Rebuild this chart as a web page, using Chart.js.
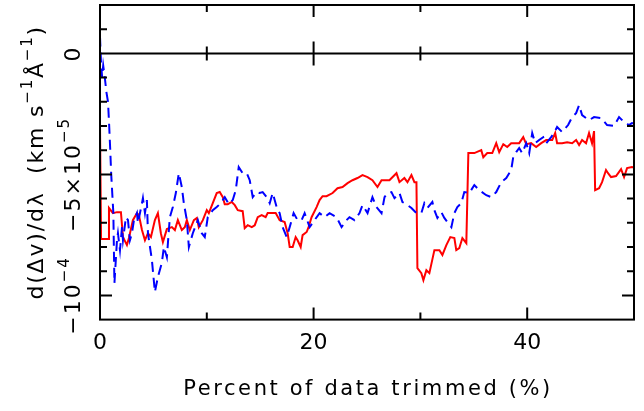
<!DOCTYPE html>
<html>
<head>
<meta charset="utf-8">
<script src="https://cdn.jsdelivr.net/npm/chart.js@4/dist/chart.umd.min.js"></script>
<style>
  html, body { margin: 0; padding: 0; background: #fff; }
  #trimChart { display: block; }
</style>
</head>
<body>
<canvas id="trimChart" width="644" height="411"></canvas>
<script>
// slope values are in units of 1e-5 km s^-1 A^-1
const redPercent = [
  0, 0.1, 0.75, 0.84, 1.21, 1.59, 1.96, 2.15, 2.52, 2.71,
  3.08, 3.46, 3.64, 3.93, 4.21, 4.49, 4.77, 5.14, 5.42, 5.70,
  5.89, 6.26, 6.73, 7.01, 7.29, 7.66, 7.94, 8.13, 8.41, 8.79,
  9.07, 9.25, 9.63, 10.0, 10.19, 10.56, 10.93, 11.21, 11.50, 11.68,
  11.96, 12.34, 12.62, 12.90, 13.36, 13.55, 13.83, 14.21, 14.49, 14.77,
  15.14, 15.51, 15.70, 16.17, 16.45, 16.82, 17.29, 17.57, 17.76, 18.04,
  18.32, 18.50, 18.79, 18.97, 19.35, 19.53, 19.81, 20.28, 20.56, 20.84,
  21.21, 21.78, 22.24, 22.71, 23.18, 23.64, 24.11, 24.58, 25.05, 25.51,
  25.98, 26.36, 27.10, 27.76, 28.04, 28.50, 28.79, 29.16, 29.44, 29.63,
  29.72, 30.09, 30.28, 30.56, 30.84, 31.31, 31.78, 32.06, 32.43, 32.80,
  33.18, 33.36, 33.64, 33.93, 34.30, 34.49, 35.05, 35.70, 35.89, 36.26,
  36.73, 37.10, 37.38, 37.76, 38.13, 38.50, 39.25, 39.63, 39.91, 40.37,
  40.84, 41.31, 41.78, 42.34, 42.62, 42.80, 43.27, 43.74, 44.21, 44.58,
  44.86, 45.14, 45.51, 45.79, 46.07, 46.26, 46.36, 46.73, 47.01, 47.38,
  47.57, 47.85, 48.32, 48.79, 49.07, 49.35, 49.81, 50.0
];
const redSlope = [
  -2.92, -7.67, -7.67, -6.39, -6.60, -6.56, -6.56, -7.59, -7.92, -7.63,
  -6.89, -6.60, -6.68, -7.30, -7.72, -7.43, -7.59, -6.89, -6.60, -7.43,
  -7.80, -7.26, -7.18, -7.30, -6.89, -7.30, -7.18, -6.89, -7.30, -6.89,
  -6.80, -7.18, -6.89, -6.48, -6.60, -6.19, -5.77, -5.73, -5.94, -6.23,
  -6.23, -6.14, -6.27, -6.48, -6.52, -7.22, -7.10, -7.18, -7.10, -6.77,
  -6.68, -6.77, -6.60, -6.60, -6.60, -6.89, -6.97, -7.43, -8.00, -8.00,
  -7.59, -7.72, -8.00, -7.51, -7.38, -7.18, -6.77, -6.35, -6.06, -5.90,
  -5.90, -5.77, -5.57, -5.52, -5.36, -5.24, -5.15, -5.03, -5.11, -5.24,
  -5.52, -5.24, -5.24, -4.95, -5.32, -5.15, -5.32, -5.03, -5.32, -5.32,
  -8.87, -9.08, -9.37, -8.96, -9.08, -8.13, -8.13, -8.33, -7.92, -7.59,
  -7.63, -8.13, -8.05, -7.63, -7.84, -4.12, -4.12, -4.00, -4.29, -4.12,
  -4.12, -3.71, -4.08, -3.75, -3.87, -3.71, -3.71, -3.46, -3.75, -3.71,
  -3.87, -3.71, -3.58, -3.58, -3.29, -3.71, -3.71, -3.67, -3.71, -3.58,
  -3.79, -3.58, -3.71, -3.29, -3.71, -3.21, -5.65, -5.57, -5.32, -4.82,
  -4.95, -5.11, -5.07, -4.78, -5.11, -4.74, -4.70, -4.72
];

const bluePercent = [
  0, 0.1, 0.2, 0.3, 0.45, 0.6, 0.75, 0.85, 0.95, 1.05,
  1.25, 1.35, 1.59, 1.68, 1.87, 2.06, 2.15, 2.43, 2.62, 2.80,
  2.99, 3.18, 3.46, 3.55, 3.93, 4.02, 4.21, 4.39, 4.49, 4.86,
  5.14, 5.42, 5.79, 5.98, 6.26, 6.54, 6.82, 7.10, 7.38, 7.66,
  7.85, 8.13, 8.32, 8.69, 9.16, 9.53, 9.81, 10.09, 10.56, 10.93,
  11.31, 11.68, 12.06, 12.43, 12.71, 12.99, 13.36, 13.74, 14.02, 14.30,
  14.67, 14.95, 15.23, 15.61, 15.89, 16.17, 16.54, 16.82, 17.10, 17.48,
  17.76, 18.13, 18.50, 18.88, 19.16, 19.63, 20.09, 20.56, 21.03, 21.50,
  22.15, 22.62, 23.08, 23.36, 23.83, 24.30, 24.58, 25.05, 25.51, 25.89,
  26.36, 26.64, 26.92, 27.29, 27.57, 28.04, 28.32, 28.79, 29.16, 29.63,
  30.09, 30.37, 30.65, 31.12, 31.31, 31.59, 31.96, 32.24, 32.52, 32.90,
  33.18, 33.46, 33.83, 34.11, 34.58, 35.05, 35.51, 36.17, 36.64, 37.10,
  37.57, 38.04, 38.50, 38.69, 38.97, 39.25, 39.53, 39.91, 40.19, 40.47,
  40.75, 41.12, 41.50, 41.78, 42.24, 42.52, 42.80, 43.27, 43.83, 44.21,
  44.58, 44.86, 45.14, 45.79, 46.26, 46.92, 47.48, 48.13, 48.60, 49.07,
  49.53, 49.81, 50.0
];
const blueSlope = [
  0.7, -0.4, -1.0, -0.5, -1.0, -1.6, -2.0, -2.9, -3.9, -5.0,
  -6.6, -9.5, -7.72, -7.43, -8.13, -7.18, -7.72, -6.77, -6.89, -7.72,
  -7.43, -6.89, -6.60, -7.01, -6.19, -5.98, -6.60, -6.06, -7.43, -8.54,
  -9.86, -9.24, -8.66, -8.00, -8.42, -6.77, -6.35, -5.77, -4.95, -5.52,
  -6.19, -6.89, -8.00, -7.43, -6.89, -7.43, -7.59, -6.77, -6.48, -6.35,
  -6.19, -5.94, -6.23, -6.06, -5.65, -4.70, -4.95, -4.95, -5.24, -5.94,
  -5.73, -5.77, -5.73, -5.94, -6.19, -5.77, -6.35, -6.60, -7.18, -7.59,
  -7.18, -6.60, -6.89, -6.89, -6.60, -7.18, -6.89, -6.60, -6.77, -6.60,
  -6.77, -7.18, -6.89, -6.77, -6.89, -6.60, -6.27, -6.60, -5.94, -6.35,
  -6.60, -5.94, -5.77, -5.73, -5.98, -5.77, -6.14, -6.27, -6.39, -6.60,
  -6.60, -6.19, -6.39, -6.14, -6.48, -6.80, -6.56, -6.80, -6.97, -7.18,
  -6.60, -6.35, -6.19, -5.73, -5.77, -5.44, -5.65, -5.86, -5.94, -5.73,
  -5.32, -5.15, -4.82, -4.29, -4.08, -3.91, -4.12, -3.71, -4.12, -3.29,
  -3.71, -3.58, -3.46, -3.71, -3.46, -3.29, -3.04, -3.25, -2.96, -2.63,
  -2.47, -2.14, -2.55, -2.76, -2.63, -2.67, -2.96, -3.00, -2.63, -2.84,
  -2.96, -2.88, -2.90
];

const xLabelValues = [0, 20, 40];
const yLabelValues = [0, -5, -10];
// each label is a list of [text, isSuperscript] pieces
const yLabelParts = [
  [['0', false]],
  [['\u22125\u00d710', false], ['\u22125', true]],
  [['\u221210', false], ['\u22124', true]],
];
const yTitleParts = [
  ['d(\u0394v)/d\u03bb  (km s', false], ['\u22121', true],
  ['\u00c5', false], ['\u22121', true], [')', false],
];
const xTitle = 'Percent of data trimmed (%)';

const FONT = '"DejaVu Sans", sans-serif';
const BASE = 22;
const SUP = 15;

function toPoints(xs, ys) {
  return xs.map((x, i) => ({ x, y: ys[i] }));
}

// rotated text with raised superscripts, centred on (cx, cy)
function drawVertical(ctx, parts, cx, cy, spacing) {
  ctx.save();
  ctx.letterSpacing = spacing + 'px';
  const widths = parts.map(([t, sup]) => {
    ctx.font = (sup ? SUP : BASE) + 'px ' + FONT;
    return ctx.measureText(t).width;
  });
  const total = widths.reduce((s, w) => s + w, 0);
  ctx.translate(cx, cy);
  ctx.rotate(-Math.PI / 2);
  ctx.textAlign = 'left';
  ctx.textBaseline = 'middle';
  let x = -total / 2;
  parts.forEach(([t, sup], i) => {
    ctx.font = (sup ? SUP : BASE) + 'px ' + FONT;
    ctx.fillText(t, x, sup ? -9 : 0);
    x += widths[i];
  });
  ctx.restore();
}

// frame, inside ticks, zero line and axis text
const frameTicks = {
  id: 'frameTicks',
  afterDraw(chart) {
    const { ctx, chartArea: a, scales } = chart;
    const xs = scales.x;
    const ys = scales.y;
    const y0 = ys.getPixelForValue(0);

    ctx.save();
    ctx.strokeStyle = '#000';
    ctx.lineWidth = 2;
    ctx.strokeRect(a.left, a.top, a.right - a.left, a.bottom - a.top);

    ctx.beginPath();
    ctx.moveTo(a.left, y0);
    ctx.lineTo(a.right, y0);

    for (let v = 10; v < 50; v += 10) {
      const px = xs.getPixelForValue(v);
      const len = v % 20 === 0 ? 12 : 7;
      ctx.moveTo(px, a.bottom); ctx.lineTo(px, a.bottom - len);
      ctx.moveTo(px, a.top); ctx.lineTo(px, a.top + len);
      ctx.moveTo(px, y0 - len); ctx.lineTo(px, y0 + len);
    }
    for (let v = -10; v <= 1; v += 1) {
      if (v === 0) continue;
      const py = ys.getPixelForValue(v);
      const len = v % 5 === 0 ? 12 : 7;
      ctx.moveTo(a.left, py); ctx.lineTo(a.left + len, py);
      ctx.moveTo(a.right, py); ctx.lineTo(a.right - len, py);
    }
    ctx.stroke();

    ctx.fillStyle = '#000';
    yLabelValues.forEach((v, i) => {
      drawVertical(ctx, yLabelParts[i], 74, ys.getPixelForValue(v), 2);
    });
    drawVertical(ctx, yTitleParts, 37, (a.top + a.bottom) / 2, 1.8);

    ctx.font = '21px ' + FONT;
    ctx.letterSpacing = '2.6px';
    ctx.textAlign = 'center';
    ctx.textBaseline = 'middle';
    ctx.fillText(xTitle, (xs.left + xs.right) / 2 + 1, 390);
    ctx.restore();
  }
};

new Chart(document.getElementById('trimChart'), {
  type: 'line',
  data: {
    datasets: [
      {
        label: 'dashed',
        data: toPoints(bluePercent, blueSlope),
        borderColor: '#0000ff',
        borderWidth: 2,
        borderDash: [10, 6],
        pointRadius: 0,
        tension: 0,
        fill: false,
      },
      {
        label: 'solid',
        data: toPoints(redPercent, redSlope),
        borderColor: '#ff0000',
        borderWidth: 2,
        pointRadius: 0,
        tension: 0,
        fill: false,
      },
    ],
  },
  options: {
    responsive: false,
    animation: false,
    devicePixelRatio: 1,
    layout: { padding: { left: 100, right: 8, top: 5, bottom: 45 } },
    plugins: {
      legend: { display: false },
      tooltip: { enabled: false },
    },
    scales: {
      x: {
        type: 'linear',
        min: 0,
        max: 50,
        grid: { display: false, drawTicks: false },
        border: { display: false },
        ticks: {
          stepSize: 10,
          padding: 10,
          maxRotation: 0,
          color: '#000',
          font: { family: FONT, size: BASE },
          callback: (v) => (xLabelValues.includes(v) ? String(v) : ''),
        },
      },
      y: {
        min: -11,
        max: 2,
        grid: { display: false, drawTicks: false },
        border: { display: false },
        ticks: { display: false },
        title: { display: false },
      },
    },
  },
  plugins: [frameTicks],
});
</script>
</body>
</html>
